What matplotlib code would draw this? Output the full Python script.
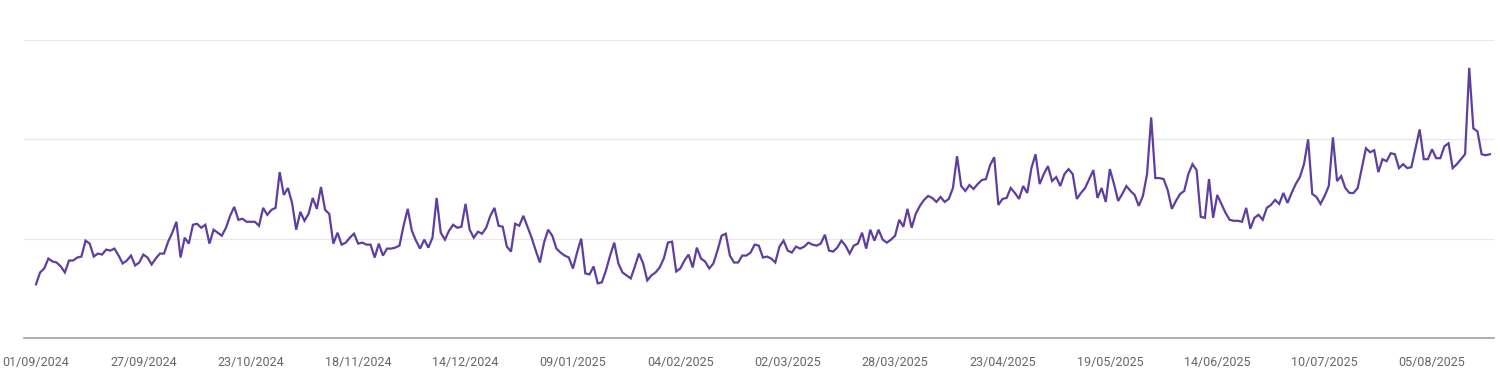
import pandas as pd
import matplotlib.pyplot as plt
import numpy as np

plt.rcParams['font.family'] = ['Roboto', 'DejaVu Sans']

# daily values, 01/09/2024 -> 19/08/2025
start_date = "2024-09-01"
values = [
    54, 66, 70, 80, 77, 76, 72, 66, 78, 78, 81, 82, 98, 95, 82, 85, 84, 89, 88, 90,
    83, 75, 78, 83, 73, 76, 84, 81, 74, 80, 85, 85, 97, 106, 117, 81, 101, 95, 114, 115,
    111, 114, 95, 109, 106, 103, 111, 123, 132, 119, 120, 117, 117, 117, 113, 131, 124, 129, 131, 167,
    144, 151, 136, 109, 127, 118, 125, 141, 130, 152, 129, 125, 95, 106, 94, 96, 101, 105, 95, 96,
    94, 94, 81, 95,
    83, 90, 90, 91, 93, 113, 130, 108, 98, 90, 99, 91, 101, 141, 106, 99, 108, 114, 111, 112,
    135, 109, 101, 107, 105, 111, 123, 131, 113, 112, 92, 87, 115, 113, 123, 112, 101, 88, 76, 96,
    109, 103, 90, 86, 83, 81, 70, 86, 100, 65, 64, 72, 55, 56, 68, 83, 96, 75, 66, 63,
    60, 72, 85, 75, 58, 63, 66, 71, 80, 96, 97, 67, 70, 78, 84, 71, 91, 80, 77, 70,
    75, 88, 103, 105, 83, 76, 76, 83, 83,
    86, 94, 93, 81, 82, 80, 76, 92, 98, 88, 86, 92, 90, 92, 96, 94, 93, 95, 104, 88,
    87, 91, 98, 93, 85, 93, 95, 106, 90, 109, 98, 109, 99, 96, 99, 103, 119, 112, 130, 111,
    125, 133, 139, 143, 141, 137, 142, 137, 140, 151, 183, 153, 148, 154, 150, 155, 159, 160, 174, 182,
    134, 140, 141, 151, 146, 140, 153, 146, 171, 185, 155, 165, 173, 158, 162, 153, 165, 170, 165, 140,
    146, 151, 160, 169, 141, 151, 137, 170, 155, 138,
    145, 153, 148, 144, 133, 143, 165, 222, 161, 161, 160, 149, 130, 138, 145, 148, 165, 175, 169, 122,
    121, 160, 121, 144, 135, 126, 119, 118, 118, 117, 131, 110, 121, 124, 119, 131, 134, 139, 135, 146,
    136, 146, 155, 162, 175, 200, 145, 142, 135, 143, 153, 202, 158, 163, 151, 146, 146, 151, 171, 191,
    187, 189, 167, 180, 178, 186, 185, 171, 175, 171, 172, 191, 210, 180, 180, 190, 181, 181, 193, 196,
    171, 175, 180, 185, 272, 211, 208, 185, 184, 185,
]
grid_levels = [100, 200, 300]

dates = pd.date_range(start_date, periods=len(values), freq="D")
tick_dates = pd.date_range(start_date, periods=14, freq="26D")

fig = plt.figure(figsize=(15, 3.82), dpi=100)
ax = fig.add_axes([24 / 1500, 44 / 382, 1470 / 1500, 298 / 382])

ax.plot(dates, values, color="#5e3ea1", linewidth=1.6, solid_joinstyle="miter")

ax.set_ylim(0, 300)
ax.set_xlim(dates[0] - pd.Timedelta(days=2.9), dates[0] + pd.Timedelta(days=353))

ax.set_yticks(grid_levels)
ax.yaxis.grid(True, color="#e8e8e8", linewidth=0.9)
ax.set_axisbelow(True)
ax.tick_params(axis="y", left=False, labelleft=False)

ax.set_xticks(tick_dates)
ax.set_xticklabels([d.strftime("%d/%m/%Y") for d in tick_dates])
ax.tick_params(axis="x", length=0, pad=13, labelsize=9, labelcolor="#666666")

for side in ["top", "left", "right"]:
    ax.spines[side].set_visible(False)
ax.spines["bottom"].set_color("#a0a0a0")
ax.spines["bottom"].set_linewidth(1.2)

plt.savefig("out.png", dpi=100)
plt.close()
